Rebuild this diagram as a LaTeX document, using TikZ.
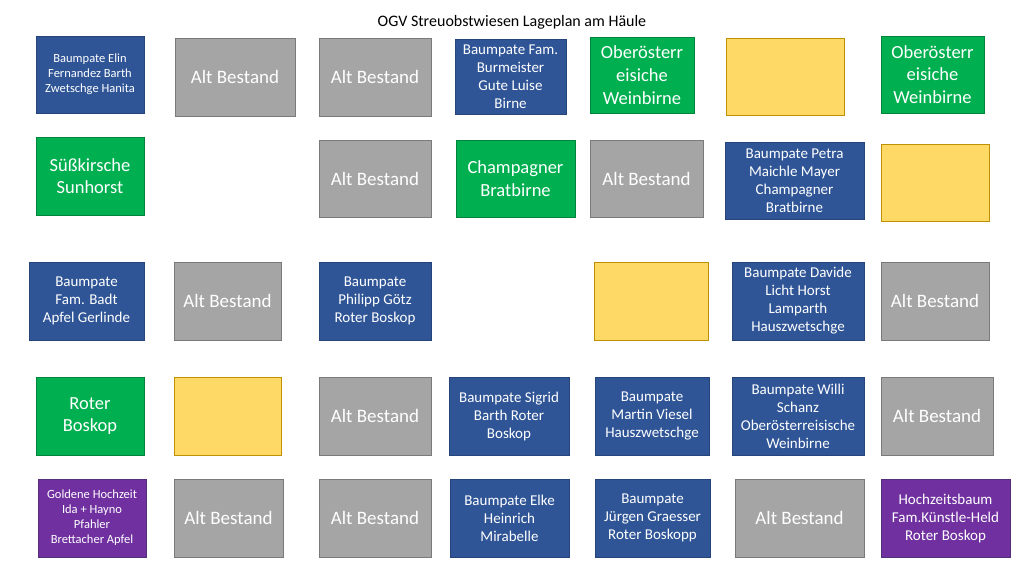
\documentclass[tikz,border=0pt]{standalone}
\usepackage{fontspec}
\setmainfont{Carlito}
\definecolor{pateblau}{HTML}{2F5597}
\definecolor{patelinie}{HTML}{24447A}
\definecolor{altgrau}{HTML}{A5A5A5}
\definecolor{altlinie}{HTML}{7A7A7A}
\definecolor{sortegruen}{HTML}{00B050}
\definecolor{sortelinie}{HTML}{00843C}
\definecolor{freigelb}{HTML}{FFD966}
\definecolor{freilinie}{HTML}{BF9000}
\definecolor{hochlila}{HTML}{7030A0}
\definecolor{hochlinie}{HTML}{55307A}

\begin{document}
\begin{tikzpicture}[x=1pt,y=-1pt]
			\tikzstyle{feld} = [draw, line width=0.8pt, align=center, inner sep=2pt, text=white, minimum height=77pt]
			\tikzstyle{pate} = [feld, fill=pateblau, draw=patelinie, font=\fontsize{15}{18}\selectfont]
			\tikzstyle{altb} = [feld, fill=altgrau, draw=altlinie, font=\fontsize{19}{23}\selectfont]
			\tikzstyle{sorte} = [feld, fill=sortegruen, draw=sortelinie, font=\fontsize{18.5}{22.7}\selectfont]
			\tikzstyle{frei} = [feld, fill=freigelb, draw=freilinie]
			\tikzstyle{hochz} = [feld, fill=hochlila, draw=hochlinie, font=\fontsize{15}{18}\selectfont]
			\tikzstyle{klein} = [font=\fontsize{12.5}{15}\selectfont]
			\useasboundingbox [fill=white] (0,0) rectangle (1024,576);
			\node (titel) at (512,22) {\fontsize{16}{19}\selectfont OGV Streuobstwiesen Lageplan am Häule};
			% Reihe 1
			\node [pate, klein, minimum width=108pt] (b1) at (90,74.5) {Baumpate Elin\\Fernandez Barth\\Zwetschge Hanita};
			\node [altb, minimum width=120pt, minimum height=78pt] (b2) at (235,77) {Alt Bestand};
			\node [altb, minimum width=112pt, minimum height=78pt] (b3) at (375,77) {Alt Bestand};
			\node [pate, minimum width=111pt, minimum height=75pt] (b4) at (510.5,76.5) {Baumpate Fam.\\Burmeister\\Gute Luise\\Birne};
			\node [sorte, minimum width=104pt, minimum height=76pt] (b5) at (642,75) {Oberösterr\\eisiche\\Weinbirne};
			\node [frei, minimum width=118pt] (b6) at (785,76.5) {};
			\node [sorte, minimum width=103pt] (b7) at (932.5,74.5) {Oberösterr\\eisiche\\Weinbirne};
			% Reihe 2
			\node [sorte, minimum width=108pt, minimum height=78pt] (b8) at (90,176) {Süßkirsche\\Sunhorst};
			\node [altb, minimum width=112pt] (b9) at (375,178.5) {Alt Bestand};
			\node [sorte, minimum width=119pt] (b10) at (515.5,178.5) {Champagner\\Bratbirne};
			\node [altb, minimum width=113pt] (b11) at (646.5,178.5) {Alt Bestand};
			\node [pate, minimum width=139pt] (b12) at (794.5,180.5) {Baumpate Petra\\Maichle Mayer\\Champagner\\Bratbirne};
			\node [frei, minimum width=108pt] (b13) at (935,182.5) {};
			% Reihe 3
			\node [pate, minimum width=115pt, minimum height=78pt] (b14) at (86.5,301) {Baumpate\\Fam. Badt\\Apfel Gerlinde};
			\node [altb, minimum width=107pt, minimum height=78pt] (b15) at (227.5,301) {Alt Bestand};
			\node [pate, minimum width=112pt, minimum height=78pt] (b16) at (375,301) {Baumpate\\Philipp Götz\\Roter Boskop};
			\node [frei, minimum width=114pt, minimum height=78pt] (b17) at (651,301) {};
			\node [pate, minimum width=132pt, minimum height=78pt] (b18) at (798,301) {Baumpate Davide\\Licht Horst\\Lamparth\\Hauszwetschge};
			\node [altb, minimum width=108pt, minimum height=78pt] (b19) at (935,301) {Alt Bestand};
			% Reihe 4
			\node [sorte, minimum width=108pt, minimum height=78pt] (b20) at (90,416) {Roter\\Boskop};
			\node [frei, minimum width=107pt, minimum height=78pt] (b21) at (227.5,416) {};
			\node [altb, minimum width=112pt, minimum height=78pt] (b22) at (375,416) {Alt Bestand};
			\node [pate, minimum width=120pt, minimum height=78pt] (b23) at (509,416) {Baumpate Sigrid\\Barth Roter\\Boskop};
			\node [pate, minimum width=114pt, minimum height=78pt] (b24) at (652,416) {Baumpate\\Martin Viesel\\Hauszwetschge};
			\node [pate, minimum width=132pt, minimum height=78pt] (b25) at (798,416) {Baumpate Willi\\Schanz\\Oberösterreisische\\Weinbirne};
			\node [altb, minimum width=112pt, minimum height=78pt] (b26) at (937,416) {Alt Bestand};
			% Reihe 5
			\node [hochz, klein, minimum width=108pt, minimum height=78pt] (b27) at (92,518) {Goldene Hochzeit\\Ida + Hayno\\Pfahler\\Brettacher Apfel};
			\node [altb, minimum width=109pt, minimum height=78pt] (b28) at (228.5,518) {Alt Bestand};
			\node [altb, minimum width=112pt, minimum height=78pt] (b29) at (375,518) {Alt Bestand};
			\node [pate, minimum width=119pt, minimum height=78pt] (b30) at (509.5,518) {Baumpate Elke\\Heinrich\\Mirabelle};
			\node [pate, minimum width=115pt, minimum height=78pt] (b31) at (652.5,518) {Baumpate\\Jürgen Graesser\\Roter Boskopp};
			\node [altb, minimum width=129pt, minimum height=78pt] (b32) at (799.5,518) {Alt Bestand};
			\node [hochz, minimum width=129pt, minimum height=78pt] (b33) at (945.5,518) {Hochzeitsbaum\\Fam.Künstle-Held\\Roter Boskop};
		\end{tikzpicture}
\end{document}
